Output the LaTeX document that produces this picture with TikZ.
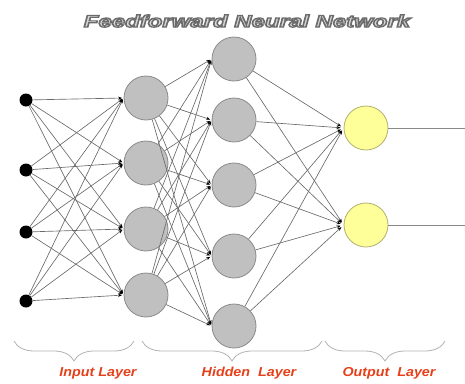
\documentclass[tikz,border=0pt]{standalone}
\usepackage{fontspec}
\setmainfont{Liberation Sans}
\usetikzlibrary{arrows.meta,decorations.pathreplacing}
\definecolor{nodegray}{HTML}{C0C0C0}
\definecolor{nodeedge}{HTML}{8A8A8A}
\definecolor{outfill}{HTML}{FFFF99}
\definecolor{outedge}{HTML}{B0B070}
\definecolor{labred}{HTML}{E5401A}
\definecolor{wire}{HTML}{6A6A6A}
\definecolor{titlefill}{HTML}{D8D8D8}
\makeatletter
\newcommand\outlinedtext[1]{\pgfsys@beginscope\pgfsys@invoke{ 2 Tr 1.2 w 0.42 0.42 0.42 RG }#1\pgfsys@endscope}
\makeatother
\tikzset{
  inputdot/.style={circle,fill=black,inner sep=0pt,minimum size=13pt},
  hidnode/.style={circle,draw=nodeedge,fill=nodegray,line width=0.8pt,inner sep=0pt,minimum size=44pt},
  outnode/.style={circle,draw=outedge,fill=outfill,line width=0.8pt,inner sep=0pt,minimum size=44pt},
  wirearrow/.style={draw=wire,line width=0.65pt,-{Stealth[length=4pt,width=3pt,black]},shorten >=1.5pt},
  outwire/.style={draw=wire!80,line width=0.8pt},
  layerbrace/.style={draw=gray!60,line width=0.8pt,decorate,decoration={brace,amplitude=20pt}},
  laylabel/.style={text=labred,font=\fontsize{13}{15}\selectfont\bfseries\itshape,inner sep=0pt},
  titlelabel/.style={font=\fontsize{17}{19}\selectfont\bfseries\itshape,inner sep=0pt}
}
\begin{document}
\begin{tikzpicture}[x=1pt,y=-1pt]
\useasboundingbox (0,0) rectangle (465,383);
% title
\node[titlelabel] (title) at (247,21) {\scalebox{1.41}[1]{\textcolor{titlefill}{\outlinedtext{Feedforward Neural Network}}}};
% input dots
\node[inputdot] (i1) at (26,100) {};
\node[inputdot] (i2) at (26,170) {};
\node[inputdot] (i3) at (26,232) {};
\node[inputdot] (i4) at (26,301) {};
% first layer
\node[hidnode] (a1) at (146,98) {};
\node[hidnode] (a2) at (146,163) {};
\node[hidnode] (a3) at (146,229) {};
\node[hidnode] (a4) at (146,295) {};
% second layer
\node[hidnode] (b1) at (234,59) {};
\node[hidnode] (b2) at (234,120) {};
\node[hidnode] (b3) at (234,185) {};
\node[hidnode] (b4) at (234,256) {};
\node[hidnode] (b5) at (234,326) {};
% outputs
\node[outnode] (o1) at (366,128) {};
\node[outnode] (o2) at (366,225) {};
\coordinate (e1) at (465,128);
\coordinate (e2) at (465,225);
% connections
\foreach \s in {1,...,4}{\foreach \t in {1,...,4}{\draw[wirearrow] (i\s) -- (a\t.west);}}
\foreach \s in {1,...,4}{\foreach \t in {1,...,5}{\draw[wirearrow] (a\s) -- (b\t.west);}}
\foreach \s in {1,...,5}{\foreach \t in {1,2}{\draw[wirearrow,shorten >=3pt] (b\s) -- (o\t.west);}}
\draw[outwire] (o1) -- (e1);
\draw[outwire] (o2) -- (e2);
% braces
\coordinate (br1a) at (134,341); \coordinate (br1b) at (14,341);
\coordinate (br2a) at (322,341); \coordinate (br2b) at (142,341);
\coordinate (br3a) at (445,341); \coordinate (br3b) at (325,341);
\draw[layerbrace] (br1a) -- (br1b);
\draw[layerbrace] (br2a) -- (br2b);
\draw[layerbrace] (br3a) -- (br3b);
% labels
\node[laylabel] (l1) at (98,373) {\scalebox{1.1}[1]{Input Layer}};
\node[laylabel] (l2) at (249,373) {\scalebox{1.1}[1]{Hidden\ \ Layer}};
\node[laylabel] (l3) at (389,373) {\scalebox{1.1}[1]{Output\ \ Layer}};
\end{tikzpicture}
\end{document}
